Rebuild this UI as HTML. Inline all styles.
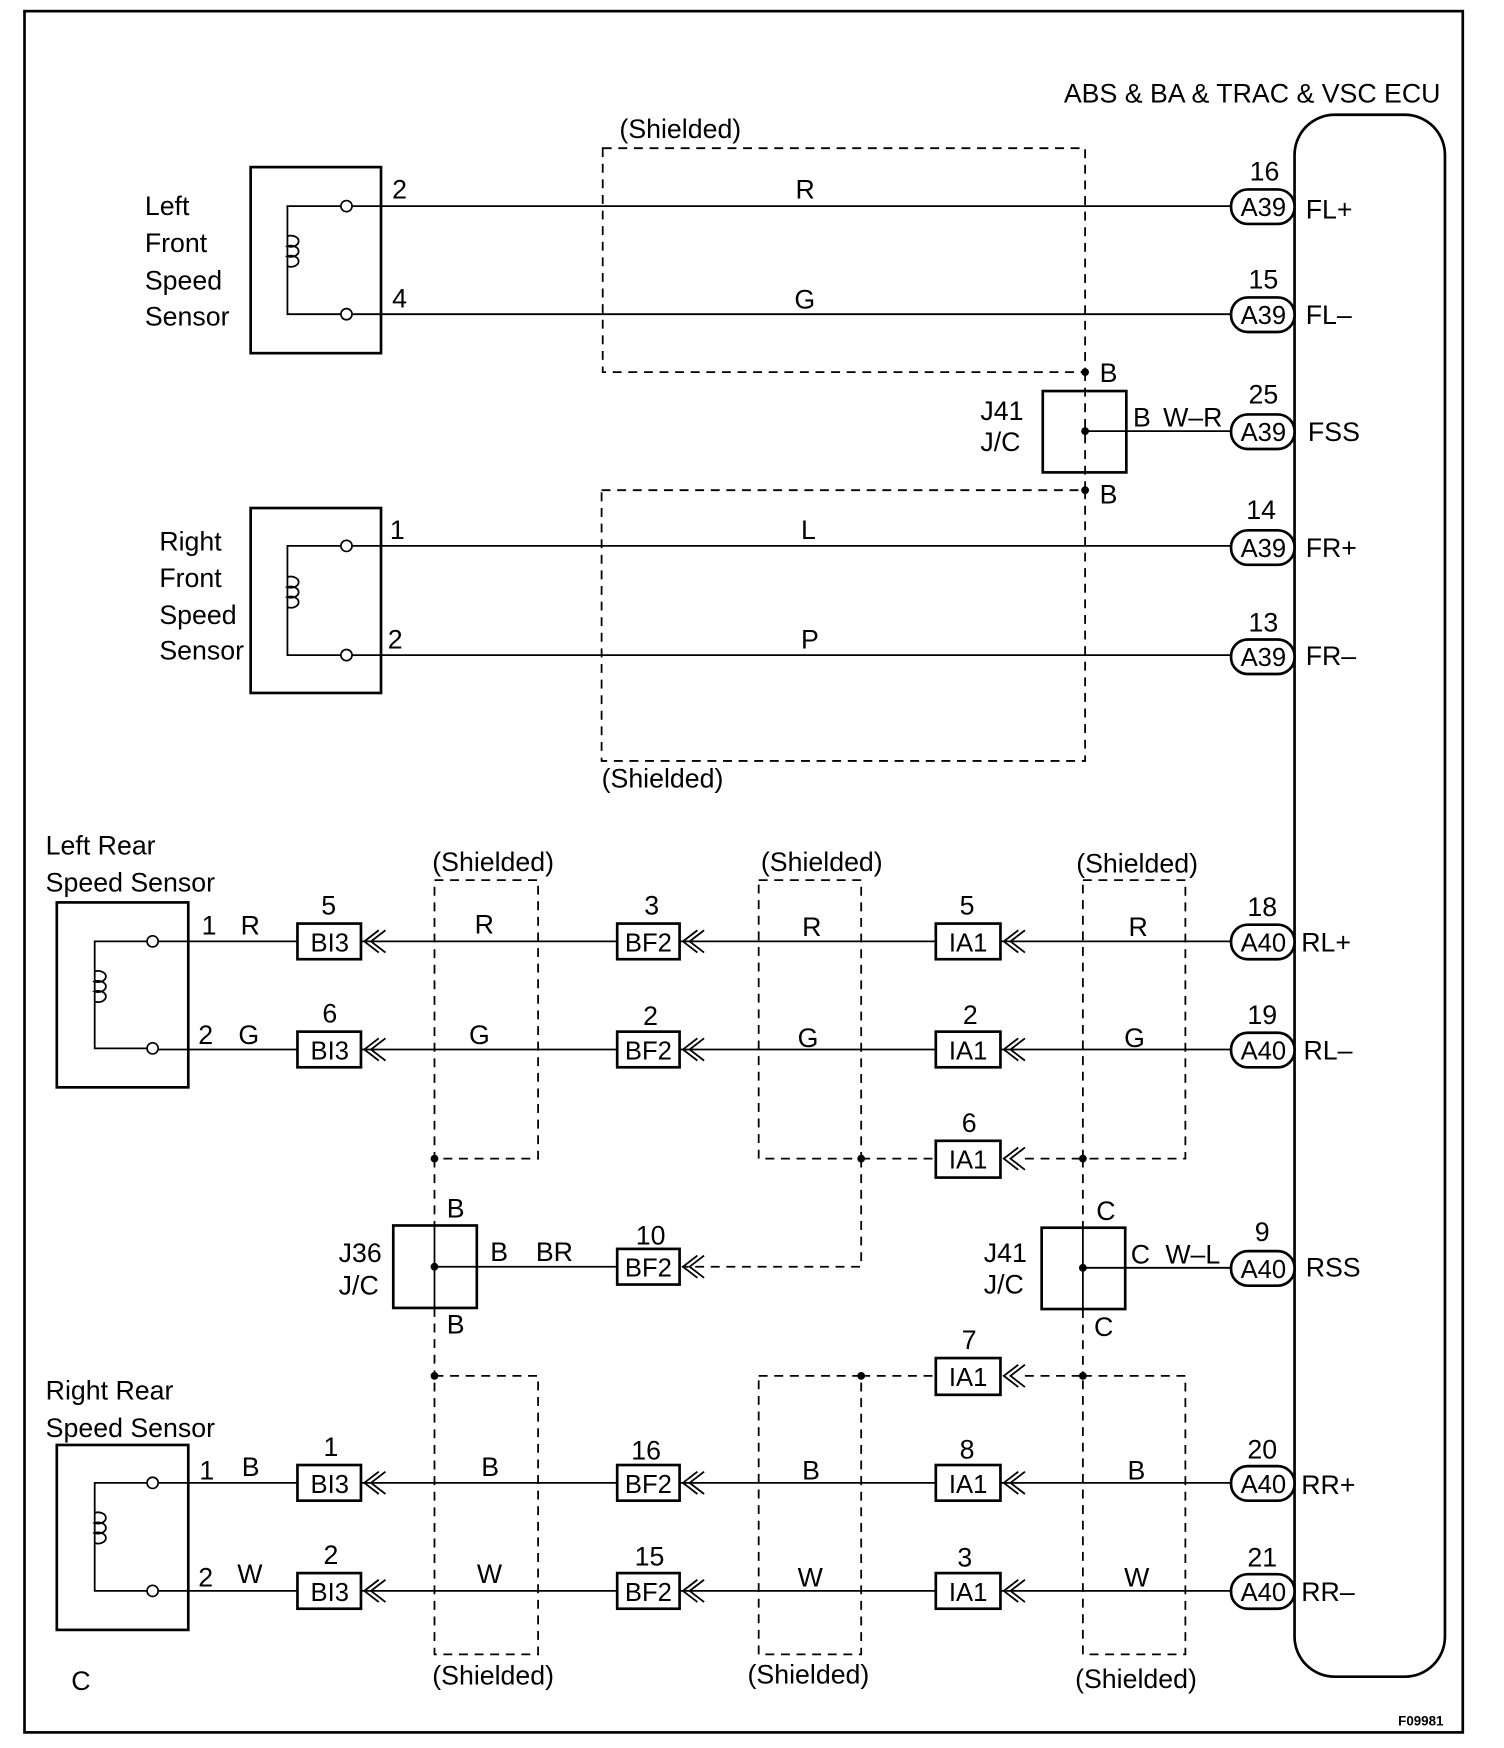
<!DOCTYPE html>
<html><head><meta charset="utf-8"><style>
html,body{margin:0;padding:0;background:#fff}
svg{display:block}
text{font-family:"Liberation Sans",Arial,sans-serif;font-size:24px;fill:#000}
.s{fill:none;stroke:#000;stroke-width:1.6}
.b{fill:none;stroke:#000;stroke-width:2.4}
.w{fill:#fff;stroke:#000;stroke-width:2.4}
.d{fill:none;stroke:#000;stroke-width:1.6;stroke-dasharray:8,6}
.c{font-size:23px}
.m{text-anchor:middle}
</style></head><body>
<svg width="1504" height="1748" viewBox="0 0 1350 1569" xmlns="http://www.w3.org/2000/svg">
<defs>
<g id="chev"><path class="s" d="M16,-10 L3,0 L16,10 M22,-10 L9,0 L22,10"/></g>
<g id="coil"><path class="s" d="M0,-14 a7,5 0 1 1 0,9 a7,5 0 1 1 0,9 a7,5 0 1 1 0,9"/></g>
</defs>
<rect x="22" y="10" width="1291" height="1545" class="b"/>
<rect x="1162" y="103" width="135" height="1402" rx="36" class="b"/>
<text x="1293" y="92" text-anchor="end">ABS &amp; BA &amp; TRAC &amp; VSC ECU</text>

<!-- Left front -->
<rect x="225" y="150" width="117" height="167" class="b"/>
<path class="s" d="M306,185 H258 V282 H306"/>
<circle cx="311" cy="185" r="5" fill="#fff" stroke="#000" stroke-width="1.5"/>
<circle cx="311" cy="282" r="5" fill="#fff" stroke="#000" stroke-width="1.5"/>
<use href="#coil" x="258" y="226"/>
<text x="130" y="193">Left</text><text x="130" y="226">Front</text><text x="130" y="260">Speed</text><text x="130" y="292">Sensor</text>
<path class="s" d="M316,185 H1105 M316,282 H1105"/>
<text x="352" y="178">2</text><text x="352" y="276">4</text>
<text x="714" y="178">R</text><text x="713" y="277">G</text>
<rect x="541" y="133" width="433" height="201" class="d"/>
<text x="556" y="124">(Shielded)</text>

<!-- J41 front -->
<rect x="936" y="351" width="75" height="73" class="b"/>
<path class="d" d="M974,334 V440"/>
<circle cx="974" cy="334" r="3.5"/><circle cx="974" cy="387" r="3.5"/><circle cx="974" cy="440" r="3.5"/>
<path class="s" d="M974,387 H1105"/>
<text x="987" y="343">B</text><text x="987" y="452">B</text>
<text x="880" y="377">J41</text><text x="880" y="405">J/C</text>
<text x="1017" y="383">B</text><text x="1044" y="383">W–R</text>

<!-- Right front -->
<rect x="225" y="456" width="117" height="166" class="b"/>
<path class="s" d="M306,490 H258 V588 H306"/>
<circle cx="311" cy="490" r="5" fill="#fff" stroke="#000" stroke-width="1.5"/>
<circle cx="311" cy="588" r="5" fill="#fff" stroke="#000" stroke-width="1.5"/>
<use href="#coil" x="258" y="532"/>
<text x="143" y="494">Right</text><text x="143" y="527">Front</text><text x="143" y="560">Speed</text><text x="143" y="592">Sensor</text>
<path class="s" d="M316,490 H1105 M316,588 H1105"/>
<text x="350" y="484">1</text><text x="348" y="582">2</text>
<text x="719" y="484">L</text><text x="719" y="582">P</text>
<rect x="540" y="440" width="434" height="243" class="d"/>
<text x="540" y="707">(Shielded)</text>

<!-- A39 connectors -->
<g>
<rect x="1105" y="170" width="57" height="31" rx="15" class="w"/><text x="1134" y="194" class="m c">A39</text><text x="1135" y="162" class="m">16</text><text x="1172" y="196">FL+</text>
<rect x="1105" y="267" width="57" height="31" rx="15" class="w"/><text x="1134" y="291" class="m c">A39</text><text x="1134" y="259" class="m">15</text><text x="1172" y="291">FL–</text>
<rect x="1105" y="372" width="57" height="31" rx="15" class="w"/><text x="1134" y="396" class="m c">A39</text><text x="1134" y="362" class="m">25</text><text x="1174" y="396">FSS</text>
<rect x="1105" y="476" width="57" height="31" rx="15" class="w"/><text x="1134" y="500" class="m c">A39</text><text x="1132" y="466" class="m">14</text><text x="1172" y="500">FR+</text>
<rect x="1105" y="574" width="57" height="31" rx="15" class="w"/><text x="1134" y="598" class="m c">A39</text><text x="1134" y="567" class="m">13</text><text x="1172" y="597">FR–</text>
</g>

<!-- Left rear sensor -->
<text x="41" y="767">Left Rear</text><text x="41" y="800">Speed Sensor</text>
<rect x="51" y="810" width="118" height="166" class="b"/>
<path class="s" d="M132,845 H85 V941 H132"/>
<circle cx="137" cy="845" r="5" fill="#fff" stroke="#000" stroke-width="1.5"/>
<circle cx="137" cy="941" r="5" fill="#fff" stroke="#000" stroke-width="1.5"/>
<use href="#coil" x="85" y="886"/>

<!-- Right rear sensor -->
<text x="41" y="1256">Right Rear</text><text x="41" y="1290">Speed Sensor</text>
<rect x="51" y="1297" width="118" height="166" class="b"/>
<path class="s" d="M132,1331 H85 V1428 H132"/>
<circle cx="137" cy="1331" r="5" fill="#fff" stroke="#000" stroke-width="1.5"/>
<circle cx="137" cy="1428" r="5" fill="#fff" stroke="#000" stroke-width="1.5"/>
<use href="#coil" x="85" y="1372"/>
<text x="64" y="1517">C</text>

<!-- rear wires -->
<path class="s" d="M142,845 H1105 M142,942 H1105 M142,1331 H1105 M142,1428 H1105"/>
<!-- shield boxes -->
<rect x="390" y="790" width="93" height="250" class="d"/>
<rect x="681" y="790" width="92" height="250" class="d"/>
<rect x="972" y="790" width="92" height="250" class="d"/>
<rect x="390" y="1235" width="93" height="250" class="d"/>
<rect x="681" y="1235" width="92" height="250" class="d"/>
<rect x="972" y="1235" width="92" height="250" class="d"/>
<text x="388" y="782">(Shielded)</text><text x="683" y="782">(Shielded)</text><text x="966" y="783">(Shielded)</text>
<text x="388" y="1512">(Shielded)</text><text x="671" y="1511">(Shielded)</text><text x="965" y="1515">(Shielded)</text>

<!-- drain lines -->
<path class="d" d="M390,1040 V1100 M390,1174 V1235 M773,1040 V1137 H612 M773,1040 H840 M773,1235 H840 M972,1040 V1102 M972,1175 V1235"/>
<circle cx="390" cy="1040" r="3.5"/><circle cx="773" cy="1040" r="3.5"/><circle cx="972" cy="1040" r="3.5"/>
<circle cx="390" cy="1235" r="3.5"/><circle cx="773" cy="1235" r="3.5"/><circle cx="972" cy="1235" r="3.5"/>
<path class="d" d="M920,1040 H972 M920,1235 H972"/>

<!-- J36 -->
<rect x="353" y="1100" width="75" height="74" class="b"/>
<path class="s" d="M390,1100 V1174 M390,1137 H554"/>
<circle cx="390" cy="1137" r="3.5"/>
<text x="401" y="1093">B</text><text x="401" y="1197">B</text>
<text x="304" y="1133">J36</text><text x="304" y="1162">J/C</text>
<text x="440" y="1132">B</text><text x="481" y="1132">BR</text>

<!-- J41 rear -->
<rect x="935" y="1102" width="75" height="73" class="b"/>
<path class="s" d="M972,1102 V1175 M972,1138 H1105"/>
<circle cx="972" cy="1138" r="3.5"/>
<text x="984" y="1095">C</text><text x="982" y="1199">C</text>
<text x="883" y="1133">J41</text><text x="883" y="1161">J/C</text>
<text x="1015" y="1134">C</text><text x="1046" y="1134">W–L</text>

<!-- wire color labels -->
<text x="181" y="839">1</text><text x="216" y="839">R</text>
<text x="178" y="937">2</text><text x="214" y="937">G</text>
<text x="179" y="1328">1</text><text x="217" y="1325">B</text>
<text x="178" y="1424">2</text><text x="213" y="1421">W</text>
<text x="426" y="838">R</text><text x="720" y="840">R</text><text x="1013" y="840">R</text>
<text x="421" y="937">G</text><text x="716" y="940">G</text><text x="1009" y="940">G</text>
<text x="432" y="1325">B</text><text x="720" y="1328">B</text><text x="1012" y="1328">B</text>
<text x="428" y="1421">W</text><text x="716" y="1424">W</text><text x="1009" y="1424">W</text>

<!-- connector boxes -->
<rect x="267" y="829" width="57" height="32" class="w"/><rect x="267" y="926" width="57" height="32" class="w"/>
<rect x="267" y="1315" width="57" height="32" class="w"/><rect x="267" y="1412" width="57" height="32" class="w"/>
<rect x="554" y="829" width="56" height="32" class="w"/><rect x="554" y="926" width="56" height="32" class="w"/>
<rect x="554" y="1121" width="56" height="32" class="w"/>
<rect x="554" y="1315" width="56" height="32" class="w"/><rect x="554" y="1412" width="56" height="32" class="w"/>
<rect x="840" y="829" width="58" height="32" class="w"/><rect x="840" y="926" width="58" height="32" class="w"/>
<rect x="840" y="1024" width="58" height="33" class="w"/><rect x="840" y="1219" width="58" height="33" class="w"/>
<rect x="840" y="1315" width="58" height="32" class="w"/><rect x="840" y="1412" width="58" height="32" class="w"/>
<use href="#chev" x="324" y="845"/><use href="#chev" x="324" y="942"/><use href="#chev" x="324" y="1331"/><use href="#chev" x="324" y="1428"/>
<use href="#chev" x="610" y="845"/><use href="#chev" x="610" y="942"/><use href="#chev" x="610" y="1137"/><use href="#chev" x="610" y="1331"/><use href="#chev" x="610" y="1428"/>
<use href="#chev" x="898" y="845"/><use href="#chev" x="898" y="942"/><use href="#chev" x="898" y="1040"/><use href="#chev" x="898" y="1235"/><use href="#chev" x="898" y="1331"/><use href="#chev" x="898" y="1428"/>
<text x="296" y="854" class="m c">BI3</text><text x="296" y="951" class="m c">BI3</text><text x="296" y="1340" class="m c">BI3</text><text x="296" y="1437" class="m c">BI3</text>
<text x="582" y="854" class="m c">BF2</text><text x="582" y="951" class="m c">BF2</text><text x="582" y="1146" class="m c">BF2</text><text x="582" y="1340" class="m c">BF2</text><text x="582" y="1437" class="m c">BF2</text>
<text x="869" y="854" class="m c">IA1</text><text x="869" y="951" class="m c">IA1</text><text x="869" y="1049" class="m c">IA1</text><text x="869" y="1244" class="m c">IA1</text><text x="869" y="1340" class="m c">IA1</text><text x="869" y="1437" class="m c">IA1</text>
<text x="295" y="821" class="m">5</text><text x="296" y="918" class="m">6</text><text x="297" y="1307" class="m">1</text><text x="297" y="1404" class="m">2</text>
<text x="585" y="821" class="m">3</text><text x="584" y="920" class="m">2</text><text x="584" y="1117" class="m">10</text><text x="580" y="1310" class="m">16</text><text x="583" y="1405" class="m">15</text>
<text x="868" y="821" class="m">5</text><text x="871" y="919" class="m">2</text><text x="870" y="1016" class="m">6</text><text x="870" y="1211" class="m">7</text><text x="868" y="1309" class="m">8</text><text x="866" y="1406" class="m">3</text>

<!-- A40 connectors -->
<g>
<rect x="1105" y="830" width="57" height="31" rx="15" class="w"/><text x="1134" y="854" class="m c">A40</text><text x="1133" y="822" class="m">18</text><text x="1168" y="854">RL+</text>
<rect x="1105" y="927" width="57" height="31" rx="15" class="w"/><text x="1134" y="951" class="m c">A40</text><text x="1133" y="919" class="m">19</text><text x="1170" y="951">RL–</text>
<rect x="1105" y="1123" width="57" height="31" rx="15" class="w"/><text x="1134" y="1147" class="m c">A40</text><text x="1133" y="1114" class="m">9</text><text x="1172" y="1146">RSS</text>
<rect x="1105" y="1316" width="57" height="31" rx="15" class="w"/><text x="1134" y="1340" class="m c">A40</text><text x="1133" y="1309" class="m">20</text><text x="1168" y="1341">RR+</text>
<rect x="1105" y="1413" width="57" height="31" rx="15" class="w"/><text x="1134" y="1437" class="m c">A40</text><text x="1133" y="1406" class="m">21</text><text x="1168" y="1437">RR–</text>
</g>
<text x="1255" y="1549" style="font-size:12px;font-weight:bold">F09981</text>
</svg>
</body></html>
